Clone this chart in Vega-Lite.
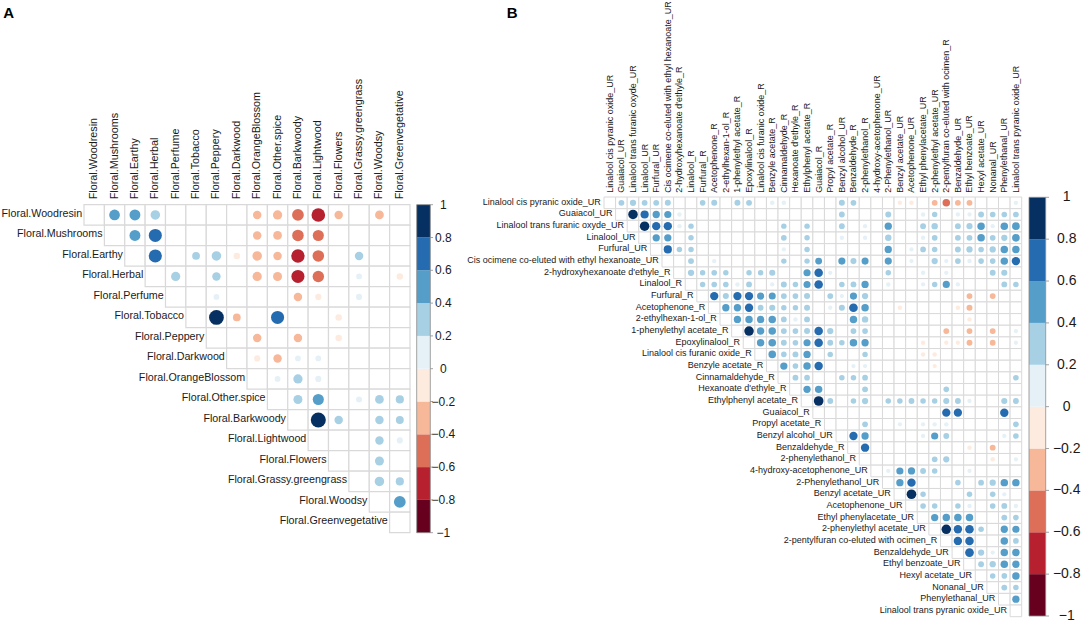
{"$schema":"https://vega.github.io/schema/vega-lite/v6.json","width":1084,"height":623,"padding":0,"autosize":{"type":"none"},"background":"white","config":{"view":{"stroke":null},"text":{"font":"Liberation Sans"}},
"datasets":{
"namesA":[{"i":0,"j":0,"name":"Floral.Woodresin"},{"i":1,"j":1,"name":"Floral.Mushrooms"},{"i":2,"j":2,"name":"Floral.Earthy"},{"i":3,"j":3,"name":"Floral.Herbal"},{"i":4,"j":4,"name":"Floral.Perfume"},{"i":5,"j":5,"name":"Floral.Tobacco"},{"i":6,"j":6,"name":"Floral.Peppery"},{"i":7,"j":7,"name":"Floral.Darkwood"},{"i":8,"j":8,"name":"Floral.OrangeBlossom"},{"i":9,"j":9,"name":"Floral.Other.spice"},{"i":10,"j":10,"name":"Floral.Barkwoody"},{"i":11,"j":11,"name":"Floral.Lightwood"},{"i":12,"j":12,"name":"Floral.Flowers"},{"i":13,"j":13,"name":"Floral.Grassy.greengrass"},{"i":14,"j":14,"name":"Floral.Woodsy"},{"i":15,"j":15,"name":"Floral.Greenvegetative"}],
"namesB":[{"i":0,"j":0,"name":"Linalool cis pyranic oxide_UR"},{"i":1,"j":1,"name":"Guaiacol_UR"},{"i":2,"j":2,"name":"Linalool trans furanic oxyde_UR"},{"i":3,"j":3,"name":"Linalool_UR"},{"i":4,"j":4,"name":"Furfural_UR"},{"i":5,"j":5,"name":"Cis ocimene co-eluted with ethyl hexanoate_UR"},{"i":6,"j":6,"name":"2-hydroxyhexanoate d'ethyle_R"},{"i":7,"j":7,"name":"Linalool_R"},{"i":8,"j":8,"name":"Furfural_R"},{"i":9,"j":9,"name":"Acetophenone_R"},{"i":10,"j":10,"name":"2-ethylhexan-1-ol_R"},{"i":11,"j":11,"name":"1-phenylethyl acetate_R"},{"i":12,"j":12,"name":"Epoxylinalool_R"},{"i":13,"j":13,"name":"Linalool cis furanic oxide_R"},{"i":14,"j":14,"name":"Benzyle acetate_R"},{"i":15,"j":15,"name":"Cinnamaldehyde_R"},{"i":16,"j":16,"name":"Hexanoate d'ethyle_R"},{"i":17,"j":17,"name":"Ethylphenyl acetate_R"},{"i":18,"j":18,"name":"Guaiacol_R"},{"i":19,"j":19,"name":"Propyl acetate_R"},{"i":20,"j":20,"name":"Benzyl alcohol_UR"},{"i":21,"j":21,"name":"Benzaldehyde_R"},{"i":22,"j":22,"name":"2-phenylethanol_R"},{"i":23,"j":23,"name":"4-hydroxy-acetophenone_UR"},{"i":24,"j":24,"name":"2-Phenylethanol_UR"},{"i":25,"j":25,"name":"Benzyl acetate_UR"},{"i":26,"j":26,"name":"Acetophenone_UR"},{"i":27,"j":27,"name":"Ethyl phenylacetate_UR"},{"i":28,"j":28,"name":"2-phenylethyl acetate_UR"},{"i":29,"j":29,"name":"2-pentylfuran co-eluted with  ocimen_R"},{"i":30,"j":30,"name":"Benzaldehyde_UR"},{"i":31,"j":31,"name":"Ethyl benzoate_UR"},{"i":32,"j":32,"name":"Hexyl acetate_UR"},{"i":33,"j":33,"name":"Nonanal_UR"},{"i":34,"j":34,"name":"Phenylethanal_UR"},{"i":35,"j":35,"name":"Linalool trans pyranic oxide_UR"}],
"bins":[{"lo":-1,"hi":-0.8,"r":-0.9},{"lo":-0.8,"hi":-0.6,"r":-0.7},{"lo":-0.6,"hi":-0.4,"r":-0.5},{"lo":-0.4,"hi":-0.2,"r":-0.3},{"lo":-0.2,"hi":0,"r":-0.1},{"lo":0,"hi":0.2,"r":0.1},{"lo":0.2,"hi":0.4,"r":0.3},{"lo":0.4,"hi":0.6,"r":0.5},{"lo":0.6,"hi":0.8,"r":0.7},{"lo":0.8,"hi":1,"r":0.9}],
"ticks":[{"v":-1},{"v":-0.8},{"v":-0.6},{"v":-0.4},{"v":-0.2},{"v":0},{"v":0.2},{"v":0.4},{"v":0.6},{"v":0.8},{"v":1}],
"cellsA":[
{"i":0,"j":0},{"i":0,"j":1,"r":0.48},{"i":0,"j":2,"r":0.5},{"i":0,"j":3,"r":0.38},{"i":0,"j":4},{"i":0,"j":5},{"i":0,"j":6},{"i":0,"j":7},{"i":0,"j":8,"r":-0.3},{"i":0,"j":9,"r":-0.36},{"i":0,"j":10,"r":-0.58},{"i":0,"j":11,"r":-0.78},{"i":0,"j":12,"r":-0.3},{"i":0,"j":13},{"i":0,"j":14,"r":-0.32},{"i":0,"j":15},
{"i":1,"j":1},{"i":1,"j":2,"r":0.5},{"i":1,"j":3,"r":0.72},{"i":1,"j":4},{"i":1,"j":5},{"i":1,"j":6},{"i":1,"j":7},{"i":1,"j":8,"r":-0.3},{"i":1,"j":9,"r":-0.32},{"i":1,"j":10,"r":-0.56},{"i":1,"j":11,"r":-0.52},{"i":1,"j":12},{"i":1,"j":13},{"i":1,"j":14},{"i":1,"j":15},
{"i":2,"j":2},{"i":2,"j":3,"r":0.72},{"i":2,"j":4},{"i":2,"j":5,"r":0.25},{"i":2,"j":6,"r":0.38},{"i":2,"j":7,"r":-0.18},{"i":2,"j":8,"r":-0.38},{"i":2,"j":9,"r":-0.3},{"i":2,"j":10,"r":-0.75},{"i":2,"j":11,"r":-0.56},{"i":2,"j":12},{"i":2,"j":13,"r":0.3},{"i":2,"j":14},{"i":2,"j":15},
{"i":3,"j":3},{"i":3,"j":4,"r":0.36},{"i":3,"j":5},{"i":3,"j":6,"r":0.3},{"i":3,"j":7},{"i":3,"j":8,"r":-0.36},{"i":3,"j":9,"r":-0.34},{"i":3,"j":10,"r":-0.72},{"i":3,"j":11,"r":-0.55},{"i":3,"j":12},{"i":3,"j":13,"r":0.14},{"i":3,"j":14},{"i":3,"j":15,"r":-0.18},
{"i":4,"j":4},{"i":4,"j":5},{"i":4,"j":6,"r":0.14},{"i":4,"j":7},{"i":4,"j":8},{"i":4,"j":9},{"i":4,"j":10,"r":-0.3},{"i":4,"j":11,"r":-0.16},{"i":4,"j":12},{"i":4,"j":13,"r":0.16},{"i":4,"j":14},{"i":4,"j":15},
{"i":5,"j":5},{"i":5,"j":6,"r":0.92},{"i":5,"j":7,"r":-0.25},{"i":5,"j":8},{"i":5,"j":9,"r":0.72},{"i":5,"j":10},{"i":5,"j":11},{"i":5,"j":12,"r":-0.18},{"i":5,"j":13},{"i":5,"j":14},{"i":5,"j":15},
{"i":6,"j":6},{"i":6,"j":7},{"i":6,"j":8,"r":-0.3},{"i":6,"j":9},{"i":6,"j":10,"r":-0.3},{"i":6,"j":11},{"i":6,"j":12,"r":-0.18},{"i":6,"j":13},{"i":6,"j":14},{"i":6,"j":15},
{"i":7,"j":7},{"i":7,"j":8,"r":-0.16},{"i":7,"j":9,"r":-0.3},{"i":7,"j":10,"r":0.14},{"i":7,"j":11,"r":0.14},{"i":7,"j":12},{"i":7,"j":13},{"i":7,"j":14},{"i":7,"j":15},
{"i":8,"j":8},{"i":8,"j":9,"r":0.14},{"i":8,"j":10,"r":0.36},{"i":8,"j":11,"r":0.16},{"i":8,"j":12},{"i":8,"j":13},{"i":8,"j":14},{"i":8,"j":15},
{"i":9,"j":9},{"i":9,"j":10,"r":0.34},{"i":9,"j":11,"r":0.52},{"i":9,"j":12},{"i":9,"j":13,"r":0.15},{"i":9,"j":14,"r":0.32},{"i":9,"j":15,"r":0.28},
{"i":10,"j":10},{"i":10,"j":11,"r":0.95},{"i":10,"j":12,"r":0.3},{"i":10,"j":13},{"i":10,"j":14,"r":0.3},{"i":10,"j":15,"r":0.26},
{"i":11,"j":11},{"i":11,"j":12},{"i":11,"j":13},{"i":11,"j":14,"r":0.3},{"i":11,"j":15,"r":0.16},
{"i":12,"j":12},{"i":12,"j":13},{"i":12,"j":14,"r":0.34},{"i":12,"j":15},
{"i":13,"j":13},{"i":13,"j":14,"r":0.38},{"i":13,"j":15,"r":0.28},
{"i":14,"j":14},{"i":14,"j":15,"r":0.58},
{"i":15,"j":15}],
"cellsB":[
{"i":0,"j":0},{"i":0,"j":1,"r":0.3},{"i":0,"j":2,"r":0.36},{"i":0,"j":3,"r":0.3},{"i":0,"j":4,"r":0.3},{"i":0,"j":5,"r":0.32},{"i":0,"j":6},{"i":0,"j":7},{"i":0,"j":8,"r":0.27},{"i":0,"j":9,"r":0.32},{"i":0,"j":10},{"i":0,"j":11,"r":0.32},{"i":0,"j":12,"r":0.3},{"i":0,"j":13},{"i":0,"j":14,"r":0.15},{"i":0,"j":15,"r":0.14},{"i":0,"j":16},{"i":0,"j":17},{"i":0,"j":18},{"i":0,"j":19},{"i":0,"j":20,"r":0.32},{"i":0,"j":21,"r":0.28},{"i":0,"j":22},{"i":0,"j":23},{"i":0,"j":24},{"i":0,"j":25,"r":-0.14},{"i":0,"j":26,"r":-0.14},{"i":0,"j":27},{"i":0,"j":28,"r":-0.3},{"i":0,"j":29,"r":-0.55},{"i":0,"j":30,"r":-0.3},{"i":0,"j":31,"r":-0.3},{"i":0,"j":32},{"i":0,"j":33},{"i":0,"j":34},{"i":0,"j":35,"r":0.13},
{"i":1,"j":1},{"i":1,"j":2,"r":0.95},{"i":1,"j":3,"r":0.68},{"i":1,"j":4,"r":0.52},{"i":1,"j":5,"r":0.5},{"i":1,"j":6,"r":0.13},{"i":1,"j":7},{"i":1,"j":8},{"i":1,"j":9},{"i":1,"j":10},{"i":1,"j":11},{"i":1,"j":12},{"i":1,"j":13},{"i":1,"j":14},{"i":1,"j":15},{"i":1,"j":16},{"i":1,"j":17},{"i":1,"j":18},{"i":1,"j":19},{"i":1,"j":20,"r":0.3},{"i":1,"j":21},{"i":1,"j":22},{"i":1,"j":23},{"i":1,"j":24,"r":0.32},{"i":1,"j":25},{"i":1,"j":26},{"i":1,"j":27,"r":0.13},{"i":1,"j":28,"r":0.25},{"i":1,"j":29},{"i":1,"j":30,"r":0.12},{"i":1,"j":31,"r":0.12},{"i":1,"j":32,"r":0.3},{"i":1,"j":33,"r":0.27},{"i":1,"j":34,"r":0.27},{"i":1,"j":35,"r":0.28},
{"i":2,"j":2},{"i":2,"j":3,"r":0.95},{"i":2,"j":4,"r":0.7},{"i":2,"j":5,"r":0.7},{"i":2,"j":6,"r":0.13},{"i":2,"j":7,"r":0.25},{"i":2,"j":8},{"i":2,"j":9},{"i":2,"j":10},{"i":2,"j":11},{"i":2,"j":12},{"i":2,"j":13},{"i":2,"j":14},{"i":2,"j":15,"r":0.25},{"i":2,"j":16},{"i":2,"j":17,"r":0.25},{"i":2,"j":18},{"i":2,"j":19},{"i":2,"j":20,"r":0.3},{"i":2,"j":21},{"i":2,"j":22,"r":0.13},{"i":2,"j":23},{"i":2,"j":24,"r":0.52},{"i":2,"j":25},{"i":2,"j":26},{"i":2,"j":27,"r":0.3},{"i":2,"j":28,"r":0.38},{"i":2,"j":29},{"i":2,"j":30,"r":0.3},{"i":2,"j":31,"r":0.34},{"i":2,"j":32,"r":0.55},{"i":2,"j":33,"r":0.12},{"i":2,"j":34,"r":0.55},{"i":2,"j":35,"r":0.58},
{"i":3,"j":3},{"i":3,"j":4,"r":0.52},{"i":3,"j":5,"r":0.52},{"i":3,"j":6},{"i":3,"j":7,"r":0.25},{"i":3,"j":8},{"i":3,"j":9},{"i":3,"j":10},{"i":3,"j":11},{"i":3,"j":12},{"i":3,"j":13},{"i":3,"j":14},{"i":3,"j":15,"r":0.28},{"i":3,"j":16},{"i":3,"j":17,"r":0.25},{"i":3,"j":18},{"i":3,"j":19},{"i":3,"j":20,"r":0.13},{"i":3,"j":21},{"i":3,"j":22,"r":0.13},{"i":3,"j":23},{"i":3,"j":24,"r":0.38},{"i":3,"j":25},{"i":3,"j":26},{"i":3,"j":27,"r":0.13},{"i":3,"j":28,"r":0.28},{"i":3,"j":29},{"i":3,"j":30,"r":0.3},{"i":3,"j":31,"r":0.3},{"i":3,"j":32,"r":0.56},{"i":3,"j":33,"r":0.28},{"i":3,"j":34,"r":0.36},{"i":3,"j":35,"r":0.58},
{"i":4,"j":4},{"i":4,"j":5,"r":0.68},{"i":4,"j":6,"r":0.25},{"i":4,"j":7,"r":0.25},{"i":4,"j":8},{"i":4,"j":9},{"i":4,"j":10},{"i":4,"j":11},{"i":4,"j":12},{"i":4,"j":13},{"i":4,"j":14},{"i":4,"j":15,"r":0.12},{"i":4,"j":16},{"i":4,"j":17,"r":0.25},{"i":4,"j":18},{"i":4,"j":19},{"i":4,"j":20},{"i":4,"j":21},{"i":4,"j":22},{"i":4,"j":23},{"i":4,"j":24,"r":0.52},{"i":4,"j":25},{"i":4,"j":26,"r":0.12},{"i":4,"j":27,"r":0.28},{"i":4,"j":28,"r":0.26},{"i":4,"j":29},{"i":4,"j":30,"r":0.3},{"i":4,"j":31,"r":0.36},{"i":4,"j":32,"r":0.27},{"i":4,"j":33,"r":0.36},{"i":4,"j":34,"r":0.55},{"i":4,"j":35,"r":0.55},
{"i":5,"j":5},{"i":5,"j":6},{"i":5,"j":7,"r":0.3},{"i":5,"j":8},{"i":5,"j":9,"r":0.13},{"i":5,"j":10},{"i":5,"j":11},{"i":5,"j":12},{"i":5,"j":13},{"i":5,"j":14},{"i":5,"j":15,"r":0.25},{"i":5,"j":16},{"i":5,"j":17,"r":0.25},{"i":5,"j":18,"r":0.45},{"i":5,"j":19},{"i":5,"j":20,"r":0.5},{"i":5,"j":21,"r":0.33},{"i":5,"j":22,"r":0.48},{"i":5,"j":23},{"i":5,"j":24,"r":0.5},{"i":5,"j":25},{"i":5,"j":26,"r":0.12},{"i":5,"j":27},{"i":5,"j":28,"r":0.36},{"i":5,"j":29,"r":0.12},{"i":5,"j":30,"r":0.28},{"i":5,"j":31,"r":0.14},{"i":5,"j":32,"r":0.27},{"i":5,"j":33,"r":0.27},{"i":5,"j":34,"r":0.55},{"i":5,"j":35,"r":0.72},
{"i":6,"j":6},{"i":6,"j":7,"r":0.36},{"i":6,"j":8,"r":0.25},{"i":6,"j":9,"r":0.27},{"i":6,"j":10,"r":0.25},{"i":6,"j":11},{"i":6,"j":12,"r":0.25},{"i":6,"j":13,"r":0.25},{"i":6,"j":14,"r":0.34},{"i":6,"j":15},{"i":6,"j":16},{"i":6,"j":17,"r":0.5},{"i":6,"j":18,"r":0.75},{"i":6,"j":19,"r":0.12},{"i":6,"j":20},{"i":6,"j":21},{"i":6,"j":22},{"i":6,"j":23},{"i":6,"j":24,"r":0.25},{"i":6,"j":25},{"i":6,"j":26},{"i":6,"j":27,"r":0.13},{"i":6,"j":28},{"i":6,"j":29,"r":0.12},{"i":6,"j":30},{"i":6,"j":31},{"i":6,"j":32},{"i":6,"j":33,"r":0.3},{"i":6,"j":34,"r":0.34},{"i":6,"j":35},
{"i":7,"j":7},{"i":7,"j":8,"r":0.25},{"i":7,"j":9,"r":0.27},{"i":7,"j":10,"r":0.27},{"i":7,"j":11,"r":0.13},{"i":7,"j":12,"r":0.3},{"i":7,"j":13},{"i":7,"j":14,"r":0.12},{"i":7,"j":15,"r":0.32},{"i":7,"j":16,"r":0.26},{"i":7,"j":17,"r":0.48},{"i":7,"j":18,"r":0.75},{"i":7,"j":19},{"i":7,"j":20,"r":0.26},{"i":7,"j":21,"r":0.3},{"i":7,"j":22,"r":0.52},{"i":7,"j":23},{"i":7,"j":24,"r":0.13},{"i":7,"j":25},{"i":7,"j":26},{"i":7,"j":27,"r":0.12},{"i":7,"j":28,"r":0.25},{"i":7,"j":29,"r":0.5},{"i":7,"j":30,"r":0.12},{"i":7,"j":31},{"i":7,"j":32},{"i":7,"j":33},{"i":7,"j":34,"r":0.3},{"i":7,"j":35,"r":0.26},
{"i":8,"j":8},{"i":8,"j":9,"r":0.7},{"i":8,"j":10,"r":0.33},{"i":8,"j":11,"r":0.7},{"i":8,"j":12,"r":0.7},{"i":8,"j":13,"r":0.5},{"i":8,"j":14,"r":0.48},{"i":8,"j":15,"r":0.3},{"i":8,"j":16,"r":0.28},{"i":8,"j":17,"r":0.33},{"i":8,"j":18},{"i":8,"j":19,"r":0.3},{"i":8,"j":20,"r":0.12},{"i":8,"j":21,"r":0.5},{"i":8,"j":22,"r":0.36},{"i":8,"j":23},{"i":8,"j":24},{"i":8,"j":25},{"i":8,"j":26},{"i":8,"j":27},{"i":8,"j":28},{"i":8,"j":29},{"i":8,"j":30},{"i":8,"j":31,"r":-0.3},{"i":8,"j":32},{"i":8,"j":33,"r":-0.3},{"i":8,"j":34},{"i":8,"j":35},
{"i":9,"j":9},{"i":9,"j":10,"r":0.52},{"i":9,"j":11,"r":0.52},{"i":9,"j":12,"r":0.7},{"i":9,"j":13,"r":0.3},{"i":9,"j":14,"r":0.34},{"i":9,"j":15,"r":0.25},{"i":9,"j":16,"r":0.25},{"i":9,"j":17,"r":0.32},{"i":9,"j":18},{"i":9,"j":19,"r":0.12},{"i":9,"j":20,"r":0.33},{"i":9,"j":21,"r":0.78},{"i":9,"j":22,"r":0.55},{"i":9,"j":23},{"i":9,"j":24},{"i":9,"j":25,"r":-0.14},{"i":9,"j":26},{"i":9,"j":27},{"i":9,"j":28},{"i":9,"j":29},{"i":9,"j":30,"r":-0.14},{"i":9,"j":31,"r":-0.32},{"i":9,"j":32},{"i":9,"j":33},{"i":9,"j":34},{"i":9,"j":35},
{"i":10,"j":10},{"i":10,"j":11,"r":0.52},{"i":10,"j":12,"r":0.55},{"i":10,"j":13,"r":0.52},{"i":10,"j":14,"r":0.55},{"i":10,"j":15,"r":0.28},{"i":10,"j":16,"r":0.13},{"i":10,"j":17,"r":0.3},{"i":10,"j":18},{"i":10,"j":19},{"i":10,"j":20},{"i":10,"j":21,"r":0.55},{"i":10,"j":22,"r":0.38},{"i":10,"j":23},{"i":10,"j":24},{"i":10,"j":25},{"i":10,"j":26},{"i":10,"j":27},{"i":10,"j":28},{"i":10,"j":29},{"i":10,"j":30},{"i":10,"j":31,"r":-0.13},{"i":10,"j":32},{"i":10,"j":33},{"i":10,"j":34},{"i":10,"j":35},
{"i":11,"j":11},{"i":11,"j":12,"r":0.95},{"i":11,"j":13,"r":0.55},{"i":11,"j":14,"r":0.55},{"i":11,"j":15,"r":0.3},{"i":11,"j":16,"r":0.28},{"i":11,"j":17,"r":0.32},{"i":11,"j":18,"r":0.75},{"i":11,"j":19,"r":0.36},{"i":11,"j":20},{"i":11,"j":21,"r":0.3},{"i":11,"j":22,"r":0.28},{"i":11,"j":23},{"i":11,"j":24},{"i":11,"j":25},{"i":11,"j":26},{"i":11,"j":27},{"i":11,"j":28},{"i":11,"j":29,"r":-0.3},{"i":11,"j":30},{"i":11,"j":31,"r":-0.3},{"i":11,"j":32},{"i":11,"j":33,"r":-0.3},{"i":11,"j":34},{"i":11,"j":35,"r":0.12},
{"i":12,"j":12},{"i":12,"j":13,"r":0.55},{"i":12,"j":14,"r":0.58},{"i":12,"j":15,"r":0.3},{"i":12,"j":16,"r":0.27},{"i":12,"j":17,"r":0.5},{"i":12,"j":18,"r":0.75},{"i":12,"j":19,"r":0.3},{"i":12,"j":20,"r":0.26},{"i":12,"j":21,"r":0.56},{"i":12,"j":22,"r":0.52},{"i":12,"j":23},{"i":12,"j":24},{"i":12,"j":25},{"i":12,"j":26},{"i":12,"j":27,"r":-0.13},{"i":12,"j":28},{"i":12,"j":29,"r":-0.12},{"i":12,"j":30,"r":-0.12},{"i":12,"j":31,"r":-0.3},{"i":12,"j":32},{"i":12,"j":33,"r":-0.3},{"i":12,"j":34},{"i":12,"j":35,"r":0.12},
{"i":13,"j":13},{"i":13,"j":14,"r":0.56},{"i":13,"j":15,"r":0.26},{"i":13,"j":16,"r":0.3},{"i":13,"j":17,"r":0.52},{"i":13,"j":18},{"i":13,"j":19,"r":0.25},{"i":13,"j":20},{"i":13,"j":21},{"i":13,"j":22,"r":0.25},{"i":13,"j":23},{"i":13,"j":24},{"i":13,"j":25},{"i":13,"j":26},{"i":13,"j":27,"r":-0.14},{"i":13,"j":28,"r":-0.14},{"i":13,"j":29},{"i":13,"j":30},{"i":13,"j":31},{"i":13,"j":32},{"i":13,"j":33},{"i":13,"j":34},{"i":13,"j":35},
{"i":14,"j":14},{"i":14,"j":15,"r":0.52},{"i":14,"j":16,"r":0.27},{"i":14,"j":17,"r":0.55},{"i":14,"j":18,"r":0.72},{"i":14,"j":19},{"i":14,"j":20},{"i":14,"j":21,"r":0.12},{"i":14,"j":22,"r":0.12},{"i":14,"j":23},{"i":14,"j":24},{"i":14,"j":25},{"i":14,"j":26},{"i":14,"j":27},{"i":14,"j":28,"r":-0.12},{"i":14,"j":29},{"i":14,"j":30},{"i":14,"j":31},{"i":14,"j":32},{"i":14,"j":33},{"i":14,"j":34},{"i":14,"j":35},
{"i":15,"j":15},{"i":15,"j":16,"r":0.3},{"i":15,"j":17,"r":0.28},{"i":15,"j":18},{"i":15,"j":19},{"i":15,"j":20,"r":0.26},{"i":15,"j":21,"r":0.26},{"i":15,"j":22,"r":0.28},{"i":15,"j":23},{"i":15,"j":24},{"i":15,"j":25},{"i":15,"j":26},{"i":15,"j":27},{"i":15,"j":28},{"i":15,"j":29},{"i":15,"j":30},{"i":15,"j":31},{"i":15,"j":32},{"i":15,"j":33},{"i":15,"j":34},{"i":15,"j":35,"r":0.27},
{"i":16,"j":16},{"i":16,"j":17,"r":0.52},{"i":16,"j":18,"r":0.55},{"i":16,"j":19},{"i":16,"j":20},{"i":16,"j":21},{"i":16,"j":22,"r":0.3},{"i":16,"j":23},{"i":16,"j":24},{"i":16,"j":25},{"i":16,"j":26},{"i":16,"j":27},{"i":16,"j":28},{"i":16,"j":29,"r":0.27},{"i":16,"j":30},{"i":16,"j":31},{"i":16,"j":32},{"i":16,"j":33},{"i":16,"j":34},{"i":16,"j":35},
{"i":17,"j":17},{"i":17,"j":18,"r":0.98},{"i":17,"j":19,"r":0.3},{"i":17,"j":20},{"i":17,"j":21,"r":0.26},{"i":17,"j":22,"r":0.36},{"i":17,"j":23},{"i":17,"j":24,"r":0.26},{"i":17,"j":25,"r":0.26},{"i":17,"j":26,"r":0.3},{"i":17,"j":27,"r":0.26},{"i":17,"j":28,"r":0.26},{"i":17,"j":29,"r":0.33},{"i":17,"j":30,"r":0.3},{"i":17,"j":31,"r":0.12},{"i":17,"j":32},{"i":17,"j":33},{"i":17,"j":34,"r":0.34},{"i":17,"j":35,"r":0.3},
{"i":18,"j":18},{"i":18,"j":19},{"i":18,"j":20},{"i":18,"j":21},{"i":18,"j":22},{"i":18,"j":23},{"i":18,"j":24},{"i":18,"j":25},{"i":18,"j":26},{"i":18,"j":27},{"i":18,"j":28},{"i":18,"j":29,"r":0.7},{"i":18,"j":30,"r":0.7},{"i":18,"j":31},{"i":18,"j":32},{"i":18,"j":33},{"i":18,"j":34,"r":0.72},{"i":18,"j":35},
{"i":19,"j":19},{"i":19,"j":20},{"i":19,"j":21},{"i":19,"j":22,"r":0.28},{"i":19,"j":23},{"i":19,"j":24},{"i":19,"j":25,"r":0.12},{"i":19,"j":26},{"i":19,"j":27,"r":0.12},{"i":19,"j":28,"r":0.13},{"i":19,"j":29,"r":0.13},{"i":19,"j":30},{"i":19,"j":31},{"i":19,"j":32},{"i":19,"j":33},{"i":19,"j":34},{"i":19,"j":35,"r":0.27},
{"i":20,"j":20},{"i":20,"j":21,"r":0.7},{"i":20,"j":22,"r":0.52},{"i":20,"j":23},{"i":20,"j":24},{"i":20,"j":25},{"i":20,"j":26},{"i":20,"j":27,"r":0.12},{"i":20,"j":28,"r":0.5},{"i":20,"j":29,"r":0.3},{"i":20,"j":30},{"i":20,"j":31},{"i":20,"j":32},{"i":20,"j":33},{"i":20,"j":34,"r":0.12},{"i":20,"j":35,"r":0.27},
{"i":21,"j":21},{"i":21,"j":22,"r":0.72},{"i":21,"j":23},{"i":21,"j":24},{"i":21,"j":25},{"i":21,"j":26},{"i":21,"j":27},{"i":21,"j":28},{"i":21,"j":29},{"i":21,"j":30},{"i":21,"j":31,"r":-0.14},{"i":21,"j":32},{"i":21,"j":33,"r":-0.3},{"i":21,"j":34},{"i":21,"j":35},
{"i":22,"j":22},{"i":22,"j":23},{"i":22,"j":24},{"i":22,"j":25},{"i":22,"j":26},{"i":22,"j":27},{"i":22,"j":28,"r":0.28},{"i":22,"j":29,"r":0.35},{"i":22,"j":30},{"i":22,"j":31},{"i":22,"j":32},{"i":22,"j":33,"r":-0.14},{"i":22,"j":34},{"i":22,"j":35,"r":0.12},
{"i":23,"j":23},{"i":23,"j":24,"r":0.12},{"i":23,"j":25,"r":0.5},{"i":23,"j":26,"r":0.52},{"i":23,"j":27,"r":0.3},{"i":23,"j":28,"r":0.26},{"i":23,"j":29},{"i":23,"j":30},{"i":23,"j":31,"r":0.12},{"i":23,"j":32},{"i":23,"j":33},{"i":23,"j":34},{"i":23,"j":35},
{"i":24,"j":24},{"i":24,"j":25,"r":0.52},{"i":24,"j":26,"r":0.72},{"i":24,"j":27},{"i":24,"j":28},{"i":24,"j":29},{"i":24,"j":30,"r":0.26},{"i":24,"j":31},{"i":24,"j":32,"r":0.28},{"i":24,"j":33,"r":0.36},{"i":24,"j":34,"r":0.55},{"i":24,"j":35,"r":0.55},
{"i":25,"j":25},{"i":25,"j":26,"r":0.98},{"i":25,"j":27,"r":0.25},{"i":25,"j":28},{"i":25,"j":29},{"i":25,"j":30},{"i":25,"j":31,"r":0.26},{"i":25,"j":32},{"i":25,"j":33,"r":0.26},{"i":25,"j":34,"r":0.12},{"i":25,"j":35},
{"i":26,"j":26},{"i":26,"j":27,"r":0.27},{"i":26,"j":28,"r":0.26},{"i":26,"j":29},{"i":26,"j":30,"r":0.25},{"i":26,"j":31,"r":0.13},{"i":26,"j":32},{"i":26,"j":33,"r":0.27},{"i":26,"j":34,"r":0.3},{"i":26,"j":35,"r":0.13},
{"i":27,"j":27},{"i":27,"j":28,"r":0.52},{"i":27,"j":29,"r":0.55},{"i":27,"j":30,"r":0.55},{"i":27,"j":31,"r":0.55},{"i":27,"j":32},{"i":27,"j":33},{"i":27,"j":34,"r":0.3},{"i":27,"j":35,"r":0.27},
{"i":28,"j":28},{"i":28,"j":29,"r":0.95},{"i":28,"j":30,"r":0.72},{"i":28,"j":31,"r":0.75},{"i":28,"j":32,"r":0.26},{"i":28,"j":33},{"i":28,"j":34,"r":0.52},{"i":28,"j":35,"r":0.5},
{"i":29,"j":29},{"i":29,"j":30,"r":0.72},{"i":29,"j":31,"r":0.75},{"i":29,"j":32},{"i":29,"j":33},{"i":29,"j":34,"r":0.55},{"i":29,"j":35,"r":0.28},
{"i":30,"j":30},{"i":30,"j":31,"r":0.78},{"i":30,"j":32,"r":0.36},{"i":30,"j":33,"r":0.12},{"i":30,"j":34,"r":0.55},{"i":30,"j":35,"r":0.55},
{"i":31,"j":31},{"i":31,"j":32,"r":0.3},{"i":31,"j":33,"r":0.36},{"i":31,"j":34,"r":0.55},{"i":31,"j":35,"r":0.52},
{"i":32,"j":32},{"i":32,"j":33,"r":0.26},{"i":32,"j":34,"r":0.27},{"i":32,"j":35,"r":0.55},
{"i":33,"j":33},{"i":33,"j":34,"r":0.3},{"i":33,"j":35,"r":0.26},
{"i":34,"j":34},{"i":34,"j":35,"r":0.52},
{"i":35,"j":35}]
},
"resolve":{"scale":{"x":"independent","y":"independent","size":"independent","color":"independent"}},
"layer":[
{"encoding":{"x":{"field":"j","type":"ordinal","axis":null,"scale":{"type":"band","domain":[0,1,2,3,4,5,6,7,8,9,10,11,12,13,14,15],"range":[84,410],"paddingInner":0,"paddingOuter":0}},"y":{"field":"i","type":"ordinal","axis":null,"scale":{"type":"band","domain":[0,1,2,3,4,5,6,7,8,9,10,11,12,13,14,15],"range":[204.7,532.7],"paddingInner":0,"paddingOuter":0}}},
"layer":[
{"data":{"name":"cellsA"},"mark":{"type":"rect","fill":"white","stroke":"#d9d9d9","strokeWidth":1.2}},
{"data":{"name":"cellsA"},"transform":[{"filter":"isValid(datum.r)"}],"mark":{"type":"circle","opacity":1},"encoding":{"color":{"field":"r","type":"quantitative","legend":null,"scale":{"type":"threshold","domain":[-0.8,-0.6,-0.4,-0.2,0,0.2,0.4,0.6,0.8],"range":["#67001F","#B6202F","#DD6F59","#F7B799","#FEEBE0","#E5F1F7","#A7D0E4","#549EC9","#256BAF","#053061"]}},"size":{"field":"r","type":"quantitative","legend":null,"scale":{"type":"linear","domain":[-1,0,1],"range":[238,0,238]}}}},
{"data":{"name":"namesA"},"mark":{"type":"text","align":"right","baseline":"middle","dx":-12,"dy":-1,"fontSize":10.7,"fill":"#1a1a1a"},"encoding":{"text":{"field":"name"}}},
{"data":{"name":"namesA"},"mark":{"type":"text","angle":270,"align":"left","baseline":"middle","dx":15.6,"fontSize":10.8,"fill":"#1a1a1a"},"encoding":{"y":{"datum":0,"type":"ordinal"},"text":{"field":"name"}}},
{"data":{"values":[{"t":"A"}]},"mark":{"type":"text","align":"left","baseline":"middle","dx":-91,"dy":-202,"fontSize":15,"fontWeight":"bold","fill":"black"},"encoding":{"x":{"datum":0,"type":"ordinal"},"y":{"datum":0,"type":"ordinal"},"text":{"field":"t"}}}
]},
{"encoding":{"x":{"field":"j","type":"ordinal","axis":null,"scale":{"type":"band","domain":[0,1,2,3,4,5,6,7,8,9,10,11,12,13,14,15,16,17,18,19,20,21,22,23,24,25,26,27,28,29,30,31,32,33,34,35],"range":[604,1021.7],"paddingInner":0,"paddingOuter":0}},"y":{"field":"i","type":"ordinal","axis":null,"scale":{"type":"band","domain":[0,1,2,3,4,5,6,7,8,9,10,11,12,13,14,15,16,17,18,19,20,21,22,23,24,25,26,27,28,29,30,31,32,33,34,35],"range":[197,616.7],"paddingInner":0,"paddingOuter":0}}},
"layer":[
{"data":{"name":"cellsB"},"mark":{"type":"rect","fill":"white","stroke":"#d9d9d9","strokeWidth":1}},
{"data":{"name":"cellsB"},"transform":[{"filter":"isValid(datum.r)"}],"mark":{"type":"circle","opacity":1},"encoding":{"color":{"field":"r","type":"quantitative","legend":null,"scale":{"type":"threshold","domain":[-0.8,-0.6,-0.4,-0.2,0,0.2,0.4,0.6,0.8],"range":["#67001F","#B6202F","#DD6F59","#F7B799","#FEEBE0","#E5F1F7","#A7D0E4","#549EC9","#256BAF","#053061"]}},"size":{"field":"r","type":"quantitative","legend":null,"scale":{"type":"linear","domain":[-1,0,1],"range":[95,8,95]}}}},
{"data":{"name":"namesB"},"mark":{"type":"text","align":"right","baseline":"middle","dx":-9,"dy":-1,"fontSize":9,"fill":"#1a1a1a"},"encoding":{"text":{"field":"name"}}},
{"data":{"name":"namesB"},"mark":{"type":"text","angle":270,"align":"left","baseline":"middle","dx":10,"fontSize":9,"fill":"#1a1a1a"},"encoding":{"y":{"datum":0,"type":"ordinal"},"text":{"field":"name"}}},
{"data":{"values":[{"t":"B"}]},"mark":{"type":"text","align":"left","baseline":"middle","dx":-103,"dy":-190,"fontSize":15,"fontWeight":"bold","fill":"black"},"encoding":{"x":{"datum":0,"type":"ordinal"},"y":{"datum":0,"type":"ordinal"},"text":{"field":"t"}}}
]},
{"layer":[
{"data":{"name":"bins"},"mark":{"type":"rect"},"encoding":{"x":{"datum":0,"type":"quantitative","axis":null,"scale":{"domain":[0,1],"range":[416.7,430.3]}},"x2":{"datum":1},"y":{"field":"lo","type":"quantitative","axis":null,"scale":{"domain":[-1,1],"range":[532.7,204.7]}},"y2":{"field":"hi"},"color":{"field":"r","type":"quantitative","legend":null,"scale":{"type":"threshold","domain":[-0.8,-0.6,-0.4,-0.2,0,0.2,0.4,0.6,0.8],"range":["#67001F","#B6202F","#DD6F59","#F7B799","#FEEBE0","#E5F1F7","#A7D0E4","#549EC9","#256BAF","#053061"]}}}},
{"data":{"values":[{"lo":-1,"hi":1}]},"mark":{"type":"rect","fill":null,"stroke":"#8c8c8c","strokeWidth":0.8},"encoding":{"x":{"datum":0,"type":"quantitative"},"x2":{"datum":1},"y":{"field":"lo","type":"quantitative"},"y2":{"field":"hi"}}},
{"data":{"name":"ticks"},"mark":{"type":"rule","stroke":"#8c8c8c","strokeWidth":0.8},"encoding":{"x":{"datum":1,"type":"quantitative"},"x2":{"datum":1.2},"y":{"field":"v","type":"quantitative"}}},
{"data":{"name":"ticks"},"mark":{"type":"text","align":"center","baseline":"middle","dx":13,"fontSize":12,"fill":"#1a1a1a"},"encoding":{"x":{"datum":1,"type":"quantitative"},"y":{"field":"v","type":"quantitative"},"text":{"field":"v","type":"quantitative","format":".1~f"}}}
]},
{"layer":[
{"data":{"name":"bins"},"mark":{"type":"rect"},"encoding":{"x":{"datum":0,"type":"quantitative","axis":null,"scale":{"domain":[0,1],"range":[1029,1045.7]}},"x2":{"datum":1},"y":{"field":"lo","type":"quantitative","axis":null,"scale":{"domain":[-1,1],"range":[616,197.3]}},"y2":{"field":"hi"},"color":{"field":"r","type":"quantitative","legend":null,"scale":{"type":"threshold","domain":[-0.8,-0.6,-0.4,-0.2,0,0.2,0.4,0.6,0.8],"range":["#67001F","#B6202F","#DD6F59","#F7B799","#FEEBE0","#E5F1F7","#A7D0E4","#549EC9","#256BAF","#053061"]}}}},
{"data":{"values":[{"lo":-1,"hi":1}]},"mark":{"type":"rect","fill":null,"stroke":"#8c8c8c","strokeWidth":0.8},"encoding":{"x":{"datum":0,"type":"quantitative"},"x2":{"datum":1},"y":{"field":"lo","type":"quantitative"},"y2":{"field":"hi"}}},
{"data":{"name":"ticks"},"mark":{"type":"rule","stroke":"#8c8c8c","strokeWidth":0.8},"encoding":{"x":{"datum":1,"type":"quantitative"},"x2":{"datum":1.2},"y":{"field":"v","type":"quantitative"}}},
{"data":{"name":"ticks"},"mark":{"type":"text","align":"center","baseline":"middle","dx":21,"fontSize":14,"fill":"#1a1a1a"},"encoding":{"x":{"datum":1,"type":"quantitative"},"y":{"field":"v","type":"quantitative"},"text":{"field":"v","type":"quantitative","format":".1~f"}}}
]}
]}
